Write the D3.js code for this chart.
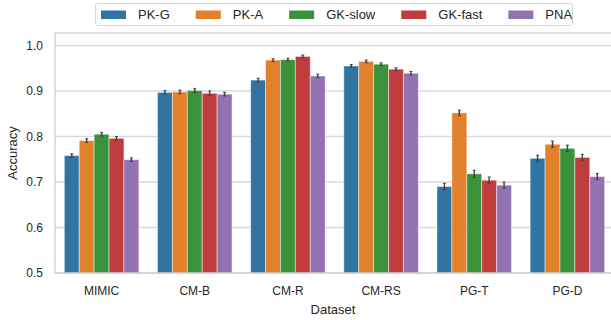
<!DOCTYPE html>
<html>
<head>
<meta charset="utf-8">
<script src="https://cdn.jsdelivr.net/npm/d3@7"></script>
<style>
  body { margin: 0; background: #fff; }
  svg { display: block; font-family: "Liberation Sans", Arial, sans-serif; }
</style>
</head>
<body>
<div id="chart"></div>
<script>
// data
var datasets = ["MIMIC", "CM-B", "CM-R", "CM-RS", "PG-T", "PG-D"];
var methods = ["PK-G", "PK-A", "GK-slow", "GK-fast", "PNA"];
var colors = ["#3274a1", "#e1812c", "#3a923a", "#c03d3e", "#9372b2"];
var pkG    = [0.758, 0.897, 0.924, 0.955, 0.690, 0.752];
var pkA    = [0.791, 0.898, 0.968, 0.965, 0.852, 0.783];
var gkSlow = [0.805, 0.901, 0.969, 0.959, 0.718, 0.774];
var gkFast = [0.796, 0.895, 0.976, 0.948, 0.704, 0.754];
var pna    = [0.749, 0.893, 0.933, 0.939, 0.693, 0.712];
var errs   = [
  [0.004, 0.004, 0.004, 0.003, 0.007, 0.007],
  [0.004, 0.004, 0.003, 0.003, 0.006, 0.007],
  [0.004, 0.004, 0.003, 0.003, 0.008, 0.007],
  [0.004, 0.005, 0.003, 0.003, 0.007, 0.007],
  [0.004, 0.004, 0.004, 0.004, 0.007, 0.007]
];
var yTicks = [0.5, 0.6, 0.7, 0.8, 0.9, 1.0];

var series = [pkG, pkA, gkSlow, gkFast, pna];

var W = 611, H = 320;
var margin = { top: 33, right: -3, bottom: 47, left: 55 };
var width = W - margin.left - margin.right,
    height = H - margin.top - margin.bottom;

var svg = d3.select("#chart").append("svg")
  .attr("width", W)
  .attr("height", H);

var g = svg.append("g")
  .attr("transform", "translate(" + margin.left + "," + margin.top + ")");

var x0 = d3.scaleBand().domain(datasets).range([0, width]).paddingInner(0).paddingOuter(0);
var x1 = d3.scaleBand().domain(methods).range([x0.bandwidth() * 0.1, x0.bandwidth() * 0.9]);
var y = d3.scaleLinear().domain([0.5, 1.0275]).range([height, 0]);

// grid
g.append("g").selectAll("line")
  .data(yTicks)
  .enter().append("line")
  .attr("x1", 0).attr("x2", width)
  .attr("y1", function(d) { return y(d); })
  .attr("y2", function(d) { return y(d); })
  .attr("stroke", "#dadada")
  .attr("stroke-width", 1.3);

// bars
var rows = [];
datasets.forEach(function(ds, i) {
  methods.forEach(function(m, j) {
    rows.push({ ds: ds, m: m, v: series[j][i], e: errs[j][i], c: colors[j] });
  });
});

g.append("g").selectAll("rect")
  .data(rows)
  .enter().append("rect")
  .attr("x", function(d) { return x0(d.ds) + x1(d.m); })
  .attr("width", x1.bandwidth())
  .attr("y", function(d) { return y(d.v); })
  .attr("height", function(d) { return y(0.5) - y(d.v); })
  .attr("fill", function(d) { return d.c; })
  .attr("stroke", "rgba(255,255,255,0.45)")
  .attr("stroke-width", 1);

// error bars
var eb = g.append("g").selectAll("g")
  .data(rows)
  .enter().append("g")
  .attr("stroke", "#424242")
  .attr("stroke-width", 1.4);
eb.append("line")
  .attr("x1", function(d) { return x0(d.ds) + x1(d.m) + x1.bandwidth() / 2; })
  .attr("x2", function(d) { return x0(d.ds) + x1(d.m) + x1.bandwidth() / 2; })
  .attr("y1", function(d) { return y(d.v - d.e); })
  .attr("y2", function(d) { return y(d.v + d.e); });
[-1, 1].forEach(function(s) {
  eb.append("line")
    .attr("x1", function(d) { return x0(d.ds) + x1(d.m) + x1.bandwidth() / 2 - 1.5; })
    .attr("x2", function(d) { return x0(d.ds) + x1(d.m) + x1.bandwidth() / 2 + 1.5; })
    .attr("y1", function(d) { return y(d.v + s * d.e); })
    .attr("y2", function(d) { return y(d.v + s * d.e); })
    .attr("stroke-width", 1);
});

// frame
g.append("rect")
  .attr("x", 0).attr("y", 0)
  .attr("width", width).attr("height", height)
  .attr("fill", "none")
  .attr("stroke", "#cfcfcf")
  .attr("stroke-width", 1.3);

// y tick labels
g.append("g").selectAll("text")
  .data(yTicks)
  .enter().append("text")
  .attr("x", -12)
  .attr("y", function(d) { return y(d); })
  .attr("dy", "0.35em")
  .attr("text-anchor", "end")
  .attr("font-size", 12)
  .attr("fill", "#262626")
  .text(function(d) { return d3.format(".1f")(d); });

// x tick labels
g.append("g").selectAll("text")
  .data(datasets)
  .enter().append("text")
  .attr("x", function(d) { return x0(d) + x0.bandwidth() / 2; })
  .attr("y", height + 22)
  .attr("text-anchor", "middle")
  .attr("font-size", 12)
  .attr("fill", "#262626")
  .text(function(d) { return d; });

// axis titles
svg.append("text")
  .attr("x", 333)
  .attr("y", 314)
  .attr("text-anchor", "middle")
  .attr("font-size", 13)
  .attr("fill", "#262626")
  .text("Dataset");

svg.append("text")
  .attr("transform", "translate(17," + (margin.top + height / 2) + ") rotate(-90)")
  .attr("text-anchor", "middle")
  .attr("font-size", 13)
  .attr("fill", "#262626")
  .text("Accuracy");

// legend
var legend = svg.append("g");
legend.append("rect")
  .attr("x", 95.5).attr("y", 3.5)
  .attr("width", 477).attr("height", 22)
  .attr("rx", 2.5)
  .attr("fill", "#fff")
  .attr("stroke", "#d6d6d6")
  .attr("stroke-width", 1);

var lx = 101;
methods.forEach(function(m, j) {
  legend.append("rect")
    .attr("x", lx).attr("y", 10.5)
    .attr("width", 25).attr("height", 8.5)
    .attr("fill", colors[j]);
  var t = legend.append("text")
    .attr("x", lx + 37).attr("y", 19)
    .attr("font-size", 13)
    .attr("fill", "#262626")
    .text(m);
  lx += 37 + t.node().getComputedTextLength() + 26;
});
</script>
</body>
</html>
